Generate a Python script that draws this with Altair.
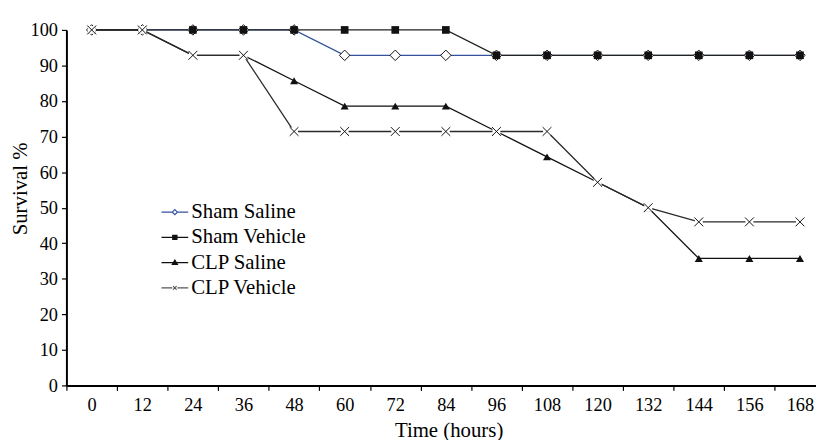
import altair as alt
import pandas as pd

# ---------------- data ----------------
hours = [0, 12, 24, 36, 48, 60, 72, 84, 96, 108, 120, 132, 144, 156, 168]
sham_saline = [100, 100, 100, 100, 100, 92.86, 92.86, 92.86, 92.86, 92.86, 92.86, 92.86, 92.86, 92.86, 92.86]
sham_vehicle = [100, 100, 100, 100, 100, 100, 100, 100, 92.86, 92.86, 92.86, 92.86, 92.86, 92.86, 92.86]
clp_saline = [100, 100, 92.86, 92.86, 85.71, 78.57, 78.57, 78.57, 71.43, 64.29, 57.14, 50, 35.71, 35.71, 35.71]
clp_vehicle = [100, 100, 92.86, 92.86, 71.43, 71.43, 71.43, 71.43, 71.43, 71.43, 57.14, 50, 46, 46, 46]

series_names = ["Sham Saline", "Sham Vehicle", "CLP Saline", "CLP Vehicle"]
series_values = [sham_saline, sham_vehicle, clp_saline, clp_vehicle]

y_ticks = [0, 10, 20, 30, 40, 50, 60, 70, 80, 90, 100]
x_tick_bounds = [-6, 6, 18, 30, 42, 54, 66, 78, 90, 102, 114, 126, 138, 150, 162]

# ---------------- styles ----------------
line_colors = ["#3552a0", "#222222", "#111111", "#2a2a2a"]
legend_colors = ["#3552a0", "#111111", "#111111", "#555555"]
legend_fills = ["white", "#111111", "#111111", "#111111"]
legend_paths = [
    "M-1.15,0H-0.22M0.22,0H1.15M-0.22,0L0,-0.22L0.22,0L0,0.22Z",
    "M-1.15,0H1.15M-0.18,-0.18H0.18V0.18H-0.18Z",
    "M-1.15,0H1.15M0,-0.22L0.22,0.15H-0.22Z",
    "M-1.15,0H-0.22M0.22,0H1.15M-0.15,-0.15L0.15,0.15M-0.15,0.15L0.15,-0.15",
]
X_PATH = "M-1,-1L1,1M-1,1L1,-1"
FONT = "Liberation Serif"
TICK_FS = 18.5
LEGEND_FS = 21
TITLE_FS = 21

rows = []
for name, vals in zip(series_names, series_values):
    for h, v in zip(hours, vals):
        rows.append({"series": name, "lg": name, "hour": h, "value": v})
df = pd.DataFrame(rows)

x_enc = alt.X(
    "hour:Q",
    scale=alt.Scale(domain=[-6, 171.8], nice=False, zero=False),
    axis=alt.Axis(
        values=x_tick_bounds,
        labelExpr="datum.value + 6",
        labelOffset=25.5,
        labelFlush=False,
        labelOverlap=False,
        labelBaseline="top",
        labelPadding=5,
        tickSize=5,
        grid=False,
        title="Time (hours)",
        titleX=386,
        titleY=52,
        titleBaseline="alphabetic",
        titleAlign="center",
    ),
)
y_enc = alt.Y(
    "value:Q",
    scale=alt.Scale(domain=[0, 100], nice=False),
    axis=alt.Axis(
        values=y_ticks,
        tickSize=5,
        labelPadding=4,
        grid=False,
        title="Survival %",
        titleX=-46,
        titleY=160,
        titleAlign="center",
        titleBaseline="middle",
        titleAngle=-90,
    ),
)

base = alt.Chart(df)

lines = base.mark_line(strokeWidth=1.3).encode(
    x=x_enc,
    y=y_enc,
    stroke=alt.Stroke("series:N", scale=alt.Scale(domain=series_names, range=line_colors), legend=None),
    order=alt.Order("hour:Q"),
)

p_sham_saline = base.transform_filter(alt.datum.series == "Sham Saline").mark_point(
    shape="diamond", size=112, filled=True, fill="white", stroke="#111111", strokeWidth=1, opacity=1
).encode(x=x_enc, y=y_enc)

p_sham_vehicle = base.transform_filter(alt.datum.series == "Sham Vehicle").mark_point(
    shape="square", size=60, filled=True, fill="#111111", opacity=1
).encode(x=x_enc, y=y_enc)

p_clp_saline = base.transform_filter(alt.datum.series == "CLP Saline").mark_point(
    shape="triangle-up", size=66, filled=True, fill="#111111", opacity=1
).encode(x=x_enc, y=y_enc)

p_clp_vehicle_bg = base.transform_filter(alt.datum.series == "CLP Vehicle").mark_point(
    shape="square", size=64, filled=True, fill="white", opacity=1
).encode(x=x_enc, y=y_enc)

p_clp_vehicle = base.transform_filter(alt.datum.series == "CLP Vehicle").mark_point(
    shape=X_PATH, size=80, filled=False, stroke="#111111", strokeWidth=1, opacity=1
).encode(x=x_enc, y=y_enc)

leg = alt.Legend(
    title=None,
    orient="none",
    legendX=97,
    legendY=171.5,
    symbolSize=552,
    symbolStrokeWidth=1.2,
    symbolOpacity=1,
    labelFont=FONT,
    labelFontSize=LEGEND_FS,
    labelColor="black",
    labelOffset=4,
    rowPadding=2.5,
    padding=0,
)

legend_layer = base.mark_point(opacity=0).encode(
    x=x_enc,
    y=y_enc,
    stroke=alt.Stroke("lg:N", scale=alt.Scale(domain=series_names, range=legend_colors), legend=leg),
    fill=alt.Fill("lg:N", scale=alt.Scale(domain=series_names, range=legend_fills), legend=leg),
    shape=alt.Shape("lg:N", scale=alt.Scale(domain=series_names, range=legend_paths), legend=leg),
)

chart = (
    alt.layer(lines, legend_layer, p_sham_saline, p_sham_vehicle, p_clp_saline, p_clp_vehicle_bg, p_clp_vehicle)
    .resolve_scale(stroke="independent", fill="independent", shape="independent")
    .properties(
        width=757,
        height=359,
        autosize=alt.AutoSizeParams(type="none"),
        padding={"left": 59, "top": 20, "right": 0, "bottom": 55},
        background="white",
    )
    .configure_view(stroke=None)
    .configure_axis(
        domainColor="black",
        domainWidth=2,
        tickColor="black",
        tickWidth=1.2,
        labelFont=FONT,
        labelFontSize=TICK_FS,
        labelColor="black",
        titleFont=FONT,
        titleFontSize=TITLE_FS,
        titleFontWeight="normal",
        titleColor="black",
    )
)

chart.save("out.html", embed_options={"renderer": "svg", "actions": False})
